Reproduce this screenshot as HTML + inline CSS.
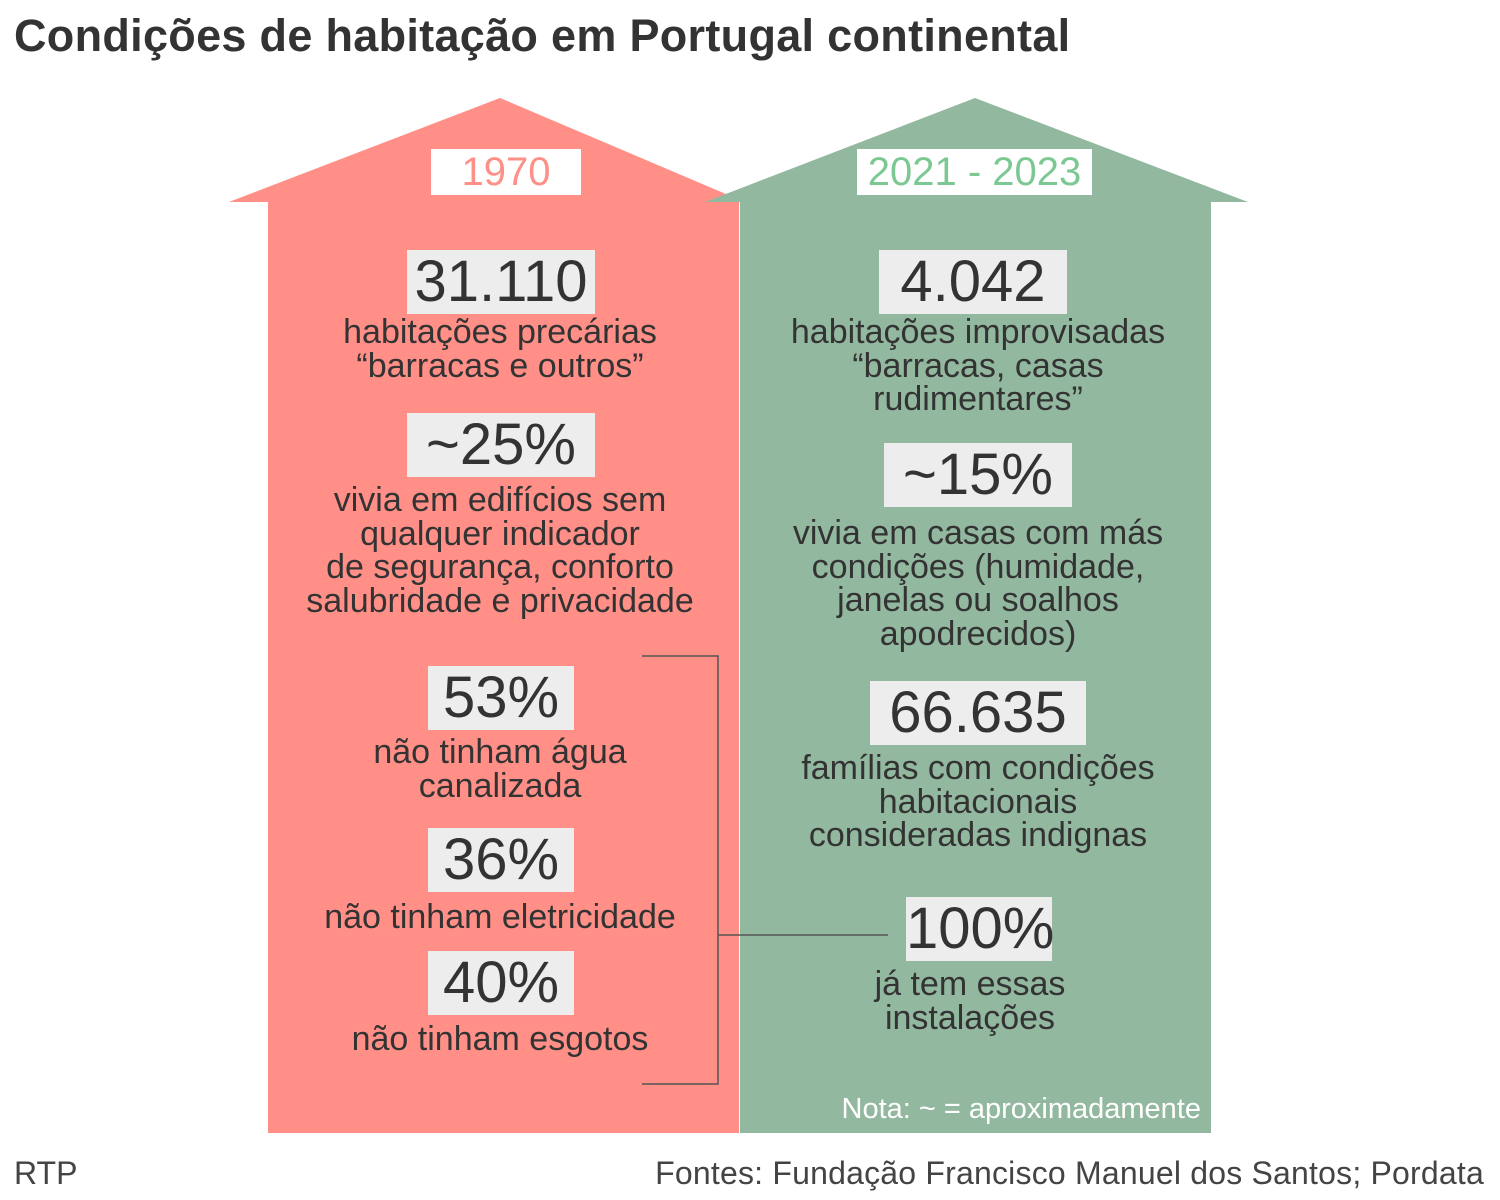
<!DOCTYPE html>
<html><head><meta charset="utf-8"><style>
body{margin:0;width:1500px;height:1200px;background:#fff;position:relative;overflow:hidden;font-family:"Liberation Sans",sans-serif;color:#333}
.a{position:absolute}
.t{position:absolute;text-align:center;font-size:34px;line-height:33.5px;color:#333;white-space:nowrap}
.n{position:absolute;background:#ededed;font-size:58px;line-height:64px;text-align:center;color:#333}
</style></head><body>
<div class="a" style="left:14px;top:10px;font-size:45px;font-weight:bold;color:#333;letter-spacing:0.3px">Condições de habitação em Portugal continental</div>
<svg class="a" style="left:0;top:0" width="1500" height="1200">
<rect x="268" y="200" width="471" height="933" fill="#ff8f87"/>
<polygon points="229,202 500,98 740,200 740,202" fill="#ff8f87"/>
<rect x="740" y="202" width="471" height="931" fill="#93b8a0"/>
<polygon points="705,202 975,98 1248,202" fill="#93b8a0"/>
<polyline points="642,656 718,656 718,1084 642,1084" fill="none" stroke="#555" stroke-width="1.5"/>
<line x1="718" y1="935" x2="888" y2="935" stroke="#555" stroke-width="1.5"/>
</svg>
<div class="a" style="left:431px;top:149px;width:150px;height:46px;background:#fff;color:#ff8f87;font-size:40px;line-height:46px;text-align:center">1970</div>
<div class="a" style="left:857px;top:149px;width:235px;height:46px;background:#fff;color:#7cc893;font-size:40px;line-height:46px;text-align:center">2021 - 2023</div>

<div class="n" style="left:407px;top:250px;width:188px">31.110</div>
<div class="t" style="left:250px;width:500px;top:316px">habitações precárias<br>“barracas e outros”</div>
<div class="n" style="left:407px;top:413px;width:188px">~25%</div>
<div class="t" style="left:250px;width:500px;top:484px">vivia em edifícios sem<br>qualquer indicador<br>de segurança, conforto<br>salubridade e privacidade</div>
<div class="n" style="left:428px;top:666px;width:146px">53%</div>
<div class="t" style="left:250px;width:500px;top:736px">não tinham água<br>canalizada</div>
<div class="n" style="left:428px;top:828px;width:146px">36%</div>
<div class="t" style="left:250px;width:500px;top:901px">não tinham eletricidade</div>
<div class="n" style="left:428px;top:951px;width:146px">40%</div>
<div class="t" style="left:250px;width:500px;top:1023px">não tinham esgotos</div>

<div class="n" style="left:879px;top:250px;width:188px">4.042</div>
<div class="t" style="left:728px;width:500px;top:316px">habitações improvisadas<br>“barracas, casas<br>rudimentares”</div>
<div class="n" style="left:884px;top:443px;width:188px">~15%</div>
<div class="t" style="left:728px;width:500px;top:517px">vivia em casas com más<br>condições (humidade,<br>janelas ou soalhos<br>apodrecidos)</div>
<div class="n" style="left:870px;top:681px;width:216px">66.635</div>
<div class="t" style="left:728px;width:500px;top:752px">famílias com condições<br>habitacionais<br>consideradas indignas</div>
<div class="n" style="left:906px;top:897px;width:146px">100%</div>
<div class="t" style="left:720px;width:500px;top:968px">já tem essas<br>instalações</div>
<div class="a" style="left:800px;width:401px;top:1093px;text-align:right;color:#fff;font-size:29px">Nota: ~ = aproximadamente</div>
<div class="a" style="left:14px;top:1155px;font-size:32px;color:#444">RTP</div>
<div class="a" style="right:16px;top:1155px;font-size:32px;color:#444;letter-spacing:0.2px">Fontes: Fundação Francisco Manuel dos Santos; Pordata</div>
</body></html>
